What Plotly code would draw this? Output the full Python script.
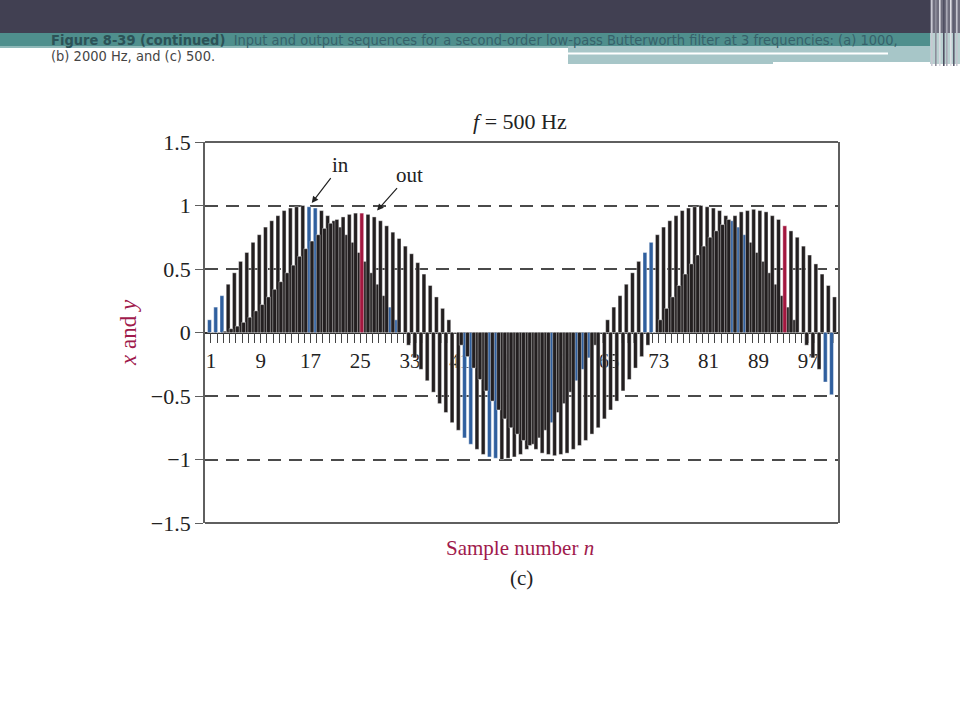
import plotly.graph_objects as go

# ---------------- data ----------------
N = list(range(1, 102))

x_in = [0.10, 0.20, 0.29, 0.38, 0.47, 0.56, 0.63, 0.71, 0.77, 0.83, 0.88, 0.92, 0.96, 0.98, 0.99, 1.00,
        0.99, 0.98, 0.96, 0.92, 0.88, 0.83, 0.77, 0.71, 0.63, 0.56, 0.47, 0.38, 0.29, 0.20, 0.10, 0.00,
        -0.10, -0.20, -0.29, -0.38, -0.47, -0.56, -0.63, -0.71, -0.77, -0.83, -0.88, -0.92, -0.96, -0.98, -0.99, -1.00,
        -0.99, -0.98, -0.96, -0.92, -0.88, -0.83, -0.77, -0.71, -0.63, -0.56, -0.47, -0.38, -0.29, -0.20, -0.10, 0.00,
        0.10, 0.20, 0.29, 0.38, 0.47, 0.56, 0.63, 0.71, 0.77, 0.83, 0.88, 0.92, 0.96, 0.98, 0.99, 1.00,
        0.99, 0.98, 0.96, 0.92, 0.88, 0.83, 0.77, 0.71, 0.63, 0.56, 0.47, 0.38, 0.29, 0.20, 0.10, 0.00,
        -0.10, -0.20, -0.29, -0.39, -0.49]

y_out = [0.00, 0.00, 0.01, 0.03, 0.05, 0.08, 0.12, 0.17, 0.22, 0.28,
         0.34, 0.40, 0.47, 0.53, 0.60, 0.66, 0.72, 0.77, 0.82, 0.86,
         0.89, 0.91, 0.93, 0.94, 0.94, 0.93, 0.91, 0.88, 0.84, 0.79,
         0.74, 0.68, 0.62, 0.55, 0.46, 0.37, 0.28, 0.19, 0.10, 0.00,
         -0.10, -0.19, -0.28, -0.37, -0.46, -0.54, -0.61, -0.68, -0.75, -0.80,
         -0.85, -0.89, -0.92, -0.95, -0.96, -0.97, -0.96, -0.95, -0.92, -0.89,
         -0.85, -0.80, -0.75, -0.68, -0.61, -0.54, -0.46, -0.37, -0.28, -0.19,
         -0.10, 0.00, 0.10, 0.19, 0.28, 0.37, 0.46, 0.54, 0.61, 0.68,
         0.75, 0.80, 0.85, 0.89, 0.92, 0.95, 0.96, 0.97, 0.96, 0.95,
         0.92, 0.89, 0.84, 0.80, 0.75, 0.68, 0.61, 0.54, 0.46, 0.37, 0.28]

# samples whose printed bars appear tinted in the figure
blue_in = [1, 2, 3, 17, 18, 30, 31, 42, 43, 46, 47, 56, 60, 61, 62, 71, 72, 85, 86, 87, 100, 101]
red_out = [25, 93]

y_ticks = [-1.5, -1, -0.5, 0, 0.5, 1, 1.5]
y_ticktext = ["\u22121.5", "\u22121", "\u22120.5", "0", "0.5", "1", "1.5"]

caption1_bold = "Figure 8-39 (continued)"
caption1_rest = ("Input and output sequences for a second-order "
                 "low-pass Butterworth filter at 3 frequencies: (a) 1000,")
caption2 = "(b) 2000 Hz, and (c) 500."

# ---------------- styling ----------------
BLACK = "#231f20"
BLUE = "#2f5f9e"
RED = "#a3173f"
CRIMSON = "#a01a4c"
SERIF = "Liberation Serif, Times New Roman, serif"
NARROW = "Liberation Sans Narrow, DejaVu Sans Condensed, sans-serif"

in_colors = [BLUE if n in blue_in else BLACK for n in N]
out_colors = [RED if n in red_out else BLACK for n in N]

W, H = 960, 720
L, R, T, B = 205, 122, 142, 197


def PX(px):
    return (px - L) / (W - L - R)


def PY(py):
    return (H - B - py) / (H - T - B)


fig = go.Figure()
fig.add_trace(go.Bar(x=N, y=x_in, width=0.62, offset=-0.55, name="in",
                     marker=dict(color=in_colors, line=dict(color="white", width=0.4))))
fig.add_trace(go.Bar(x=N, y=y_out, width=0.62, offset=-0.07, name="out",
                     marker=dict(color=out_colors, line=dict(color="white", width=0.4))))

shapes = []


def rect(x0, y0, x1, y1, color):
    shapes.append(dict(type="rect", xref="paper", yref="paper", x0=PX(x0), x1=PX(x1),
                       y0=PY(y1), y1=PY(y0), fillcolor=color, line=dict(width=0), layer="above"))


# slide header
rect(0, 0, 960, 33, "#414052")
rect(0, 33, 930, 46, "#4f8f8d")
rect(0, 46, 568, 48, "#8fb8b8")
rect(568, 46, 930, 64, "#a7c6c8")
rect(568, 52.5, 888, 54.5, "#ffffff")
rect(773, 62, 930, 66, "#ffffff")
rect(930, 0, 960, 33, "#6f6e7e")
rect(930, 33, 960, 64, "#b9d0d0")
for xs, col in [(931, "#c8c8d2"), (935, "#8d8d9b"), (939, "#d8d8e0"), (943, "#4f4f62"),
                (946, "#a9a9b6"), (950, "#e0e0e6"), (953, "#5d5d70"), (956, "#c4c4ce")]:
    rect(xs, 0, xs + 1.6, 66, col)

# plot frame (top / bottom)
for yy in (0, 1):
    shapes.append(dict(type="line", xref="paper", yref="paper", x0=0, x1=1, y0=yy, y1=yy,
                       line=dict(color="#5f5f5f", width=1.8), layer="above"))

caption1 = ("<span style='color:#2c5257'><b>" + caption1_bold + "</b></span>  " + caption1_rest)


def label(text, px, py, size, color, **kw):
    d = dict(text=text, x=PX(px), y=PY(py), xref="paper", yref="paper", xanchor="center",
             yanchor="middle", showarrow=False, font=dict(family=SERIF, size=size, color=color))
    d.update(kw)
    return d


annotations = [
    dict(text=caption1, x=PX(49), y=PY(40), xref="paper", yref="paper", xanchor="left",
         yanchor="middle", showarrow=False, font=dict(family=NARROW, size=14.5, color="#36616a")),
    dict(text=caption2, x=PX(49), y=PY(56), xref="paper", yref="paper", xanchor="left",
         yanchor="middle", showarrow=False, font=dict(family=NARROW, size=14.5, color="#454545")),
    label("<i>f</i> = 500 Hz", 520, 121, 22, "#222"),
    label("<i>x</i> and <i>y</i>", 128, 333, 23, CRIMSON, textangle=-90),
    label("Sample number <i>n</i>", 520, 548, 21, CRIMSON),
    label("(c)", 521, 578, 21, "#222"),
    dict(text="in", x=17.2, y=1.02, xref="x", yref="y", ax=29, ay=-38, showarrow=True,
         arrowhead=2, arrowsize=1.1, arrowwidth=1.2, arrowcolor="#222",
         font=dict(family=SERIF, size=21, color="#222")),
    dict(text="out", x=27.7, y=0.96, xref="x", yref="y", ax=32, ay=-36, showarrow=True,
         arrowhead=2, arrowsize=1.1, arrowwidth=1.2, arrowcolor="#222",
         font=dict(family=SERIF, size=21, color="#222")),
]

fig.update_layout(
    width=W, height=H, margin=dict(l=L, r=R, t=T, b=B, pad=0),
    paper_bgcolor="white", plot_bgcolor="white", showlegend=False,
    barmode="overlay", shapes=shapes, annotations=annotations,
    xaxis=dict(range=[0.04, 101.8], anchor="free", position=0.5, showline=True,
               linecolor="#333", linewidth=1.5, ticks="outside", ticklen=10,
               tickcolor="#444", tickwidth=1, tick0=1, dtick=1, ticklabelstep=8,
               tickfont=dict(family=SERIF, size=21, color="#222"), showgrid=False,
               zeroline=False, layer="below traces"),
    yaxis=dict(range=[-1.5, 1.5], tickmode="array", tickvals=y_ticks, ticktext=y_ticktext,
               showline=True, mirror=True, linecolor="#5f5f5f", linewidth=1.8,
               ticks="outside", ticklen=8, tickcolor="#5f5f5f", tickwidth=1.4,
               tickfont=dict(family=SERIF, size=22, color="#222"),
               showgrid=True, gridcolor="#4a4a4a", gridwidth=1.6, griddash="13px,8px",
               zeroline=False),
)

fig.write_html("out.html", config={"displayModeBar": False},
               post_script="document.body.style.margin='0';document.body.style.overflow='hidden';")
